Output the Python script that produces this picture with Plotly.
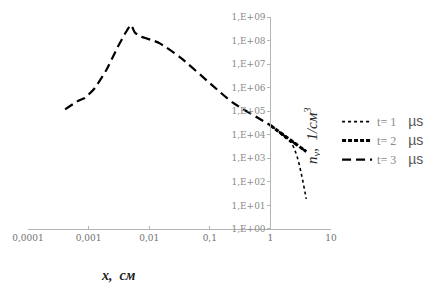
import plotly.graph_objects as go

# main curve (t = 3 µs, shared by all series over most of the range)
x_t3 = [4.1e-4, 6.8e-4, 8.7e-4, 1.26e-3, 1.95e-3, 3.0e-3, 4.1e-3, 5.0e-3, 5.8e-3,
        7.2e-3, 1.17e-2, 1.5e-2, 3.2e-2, 0.11, 0.24, 1.0, 1.95, 3.9]
y_t3 = [1.2e5, 2.8e5, 3.7e5, 9.5e5, 5.5e6, 5.1e7, 2.2e8, 4.5e8, 2.2e8,
        1.5e8, 1.0e8, 7.6e7, 2.0e7, 1.26e6, 2.3e5, 2.5e4, 6.9e3, 1.95e3]

# visible tails of t = 1 and t = 2
x_t1 = [1.0, 1.7, 2.2, 2.7, 3.25, 3.9]
y_t1 = [2.5e4, 8.0e3, 4.5e3, 1.4e3, 2.1e2, 1.9e1]
x_t2 = [1.0, 1.95, 3.9]
y_t2 = [2.5e4, 6.9e3, 1.95e3]

x_tickvals = [1e-4, 1e-3, 1e-2, 1e-1, 1, 10]
x_ticktext = ["0,0001", "0,001", "0,01", "0,1", "1", "10"]
y_tickvals = [10 ** k for k in range(0, 10)]
y_ticktext = ["1,E+%02d" % k for k in range(0, 10)]

t_labels = ["t=\u00a01", "t=\u00a02", "t=\u00a03"]
unit = "µs"


def legend_name(t):
    return ("<span style='color:#8a8a8a'>%s</span>\u00a0\u00a0\u00a0\u00a0"
            "<span style='font-family:Liberation Sans;font-size:14px;color:#555'>%s</span>" % (t, unit))


fig = go.Figure()
fig.add_trace(go.Scatter(x=x_t1, y=y_t1, mode="lines", name=legend_name(t_labels[0]),
                         line=dict(color="black", width=1.6, dash="dot", shape="spline")))
fig.add_trace(go.Scatter(x=x_t2, y=y_t2, mode="lines", name=legend_name(t_labels[1]),
                         line=dict(color="black", width=3, dash="4px,2px")))
fig.add_trace(go.Scatter(x=x_t3, y=y_t3, mode="lines", name=legend_name(t_labels[2]),
                         line=dict(color="black", width=2.2, dash="9px,5px", shape="spline", smoothing=0.6)))

axis_color = "#b4b4b4"
tick_font = dict(family="DejaVu Serif", size=9, color="#8a8a8a")
fig.update_layout(
    width=441, height=288,
    margin=dict(l=26, r=108, t=12, b=59),
    paper_bgcolor="white", plot_bgcolor="white",
    font=dict(family="Liberation Serif", color="#606060", size=9),
    xaxis=dict(type="log", range=[-4, 1], tickvals=x_tickvals, ticktext=x_ticktext,
               showgrid=False, zeroline=False, showline=True, linecolor=axis_color,
               linewidth=1, ticks="inside", ticklen=3, tickcolor=axis_color,
               tickfont=dict(family="DejaVu Serif", size=9, color="#707070")),
    yaxis=dict(type="log", range=[-0.001, 9.001], tickvals=y_tickvals, ticktext=y_ticktext,
               showgrid=False, zeroline=False, showline=True, linecolor=axis_color,
               linewidth=1, ticks="outside", ticklen=3, tickcolor=axis_color,
               anchor="free", position=0.8, ticklabeloverflow="allow",
               tickfont=tick_font),
    legend=dict(x=1.02, y=0.575, xanchor="left", yanchor="top",
                font=dict(family="Liberation Serif", size=12, color="#8a8a8a"),
                bgcolor="rgba(0,0,0,0)", itemwidth=30, tracegroupgap=0),
    showlegend=True,
)

fig.add_annotation(x=0.935, y=0.44, xref="paper", yref="paper",
                   xanchor="center", yanchor="middle",
                   text="<i>n<sub>v</sub>,  1/см<sup>3</sup></i>", textangle=-90,
                   showarrow=False, font=dict(family="Liberation Serif", size=15, color="#222222"))
fig.add_annotation(x=0.30, y=-0.217, xref="paper", yref="paper",
                   xanchor="center", yanchor="middle",
                   text="<i><b>x,  см</b></i>", showarrow=False,
                   font=dict(family="Liberation Serif", size=14, color="#222222"))

fig.write_html("out.html", config={"displayModeBar": False},
               post_script="document.body.style.margin='0';")
